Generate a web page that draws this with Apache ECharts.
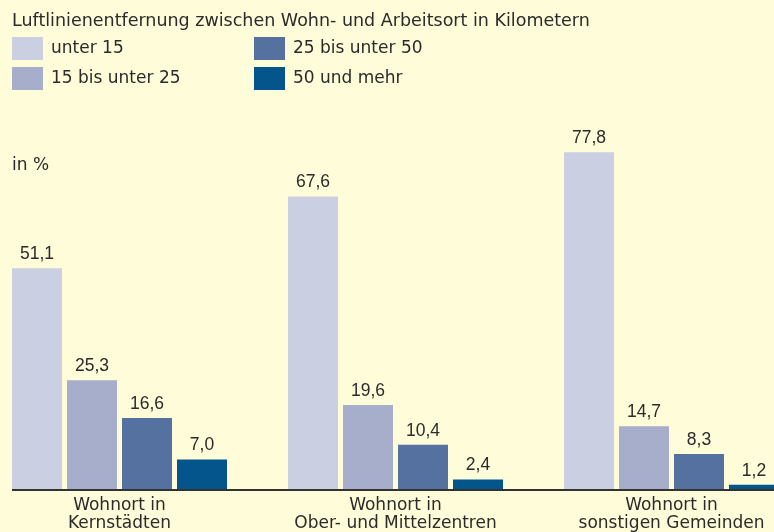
<!DOCTYPE html>
<html>
<head>
<meta charset="utf-8">
<script src="https://cdn.jsdelivr.net/npm/echarts@6/dist/echarts.min.js"></script>
<style>
  html, body { margin: 0; padding: 0; background: #fefcd9; overflow: hidden; }
  /* chart is wider than the window: the third group is cut off at the right edge */
  #chart-container { position: absolute; left: -19px; top: 0; width: 829px; height: 532px; }
</style>
</head>
<body>
<div id="chart-container"></div>
<script>
const categories = ['Wohnort in\nKernstädten', 'Wohnort in\nOber- und Mittelzentren', 'Wohnort in\nsonstigen Gemeinden'];
const seriesNames = ['unter 15', '15 bis unter 25', '25 bis unter 50', '50 und mehr'];
const under15 = [51.1, 67.6, 77.8];
const from15to25 = [25.3, 19.6, 14.7];
const from25to50 = [16.6, 10.4, 8.3];
const over50 = [7.0, 2.4, 1.2];
const colors = ['#cbcfe2', '#a7aecb', '#5471a0', '#04558b'];

const font = 'DejaVu Sans, sans-serif';
const valueFont = 'Liberation Sans, Arial, sans-serif';
const textColor = '#2b2b2b';
const shift = 19; // container offset to the left

var dom = document.getElementById('chart-container');
var myChart = echarts.init(dom, null, { renderer: 'canvas' });

const series = [under15, from15to25, from25to50, over50].map((values, i) => ({
  name: seriesNames[i],
  type: 'bar',
  barWidth: 50,
  barGap: '10%',
  itemStyle: { color: colors[i] },
  label: {
    show: true,
    position: 'top',
    distance: 5,
    color: textColor,
    fontFamily: valueFont,
    fontSize: 17.5,
    formatter: p => p.value.toFixed(1).replace('.', ',')
  },
  data: values
}));

var option = {
  backgroundColor: '#fefcd9',
  animation: false,
  title: [
    {
      text: 'Luftlinienentfernung zwischen Wohn- und Arbeitsort in Kilometern',
      left: 12 + shift, top: 12, padding: 0,
      textStyle: { fontFamily: font, fontSize: 17.5, fontWeight: 'normal', color: textColor }
    },
    {
      text: 'in %',
      left: 12 + shift, top: 157, padding: 0,
      textStyle: { fontFamily: font, fontSize: 17, fontWeight: 'normal', color: textColor }
    }
  ],
  legend: [
    {
      data: seriesNames.slice(0, 2),
      orient: 'vertical',
      left: 12 + shift, top: 37, padding: 0,
      itemWidth: 31, itemHeight: 23, itemGap: 7,
      icon: 'rect',
      selectedMode: false,
      textStyle: { fontFamily: font, fontSize: 17, color: textColor, padding: [0, 0, 0, 3] }
    },
    {
      data: seriesNames.slice(2, 4),
      orient: 'vertical',
      left: 254 + shift, top: 37, padding: 0,
      itemWidth: 31, itemHeight: 23, itemGap: 7,
      icon: 'rect',
      selectedMode: false,
      textStyle: { fontFamily: font, fontSize: 17, color: textColor, padding: [0, 0, 0, 3] }
    }
  ],
  grid: { left: 0.5, width: 828, top: 56, bottom: 42, containLabel: false, outerBoundsMode: 'none' },
  xAxis: {
    type: 'category',
    data: categories,
    axisLine: { show: false },
    axisTick: { show: false },
    axisLabel: {
      interval: 0,
      margin: 7,
      fontFamily: font,
      fontSize: 17,
      lineHeight: 17.5,
      color: textColor
    }
  },
  yAxis: {
    type: 'value',
    min: 0,
    max: 100,
    show: false
  },
  graphic: [
    {
      type: 'line',
      shape: { x1: 12 + shift, y1: 490, x2: 829, y2: 490 },
      style: { stroke: '#333333', lineWidth: 2 },
      z: 10
    }
  ],
  series: series
};

myChart.setOption(option);
window.addEventListener('resize', myChart.resize);
</script>
</body>
</html>
